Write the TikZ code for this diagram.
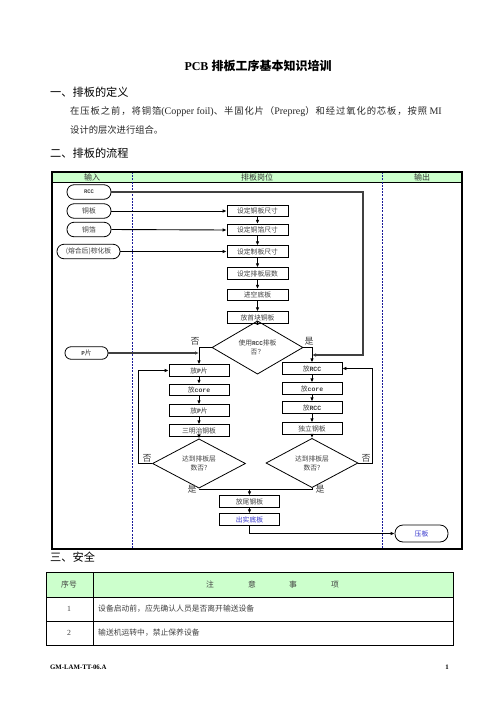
\documentclass[tikz,border=0pt]{standalone}
\usepackage{fontspec}
\setmainfont{Liberation Serif}
\setmonofont{Liberation Mono}
\newfontfamily\cjk{Noto Sans CJK SC}
\newfontfamily\cjkw[LetterSpace=10]{Noto Sans CJK SC}
\usetikzlibrary{shapes.geometric,arrows.meta}
\definecolor{hdrgreen}{HTML}{CCFFCC}
\definecolor{divblue}{HTML}{1A1A99}
\definecolor{txtblue}{HTML}{3333CC}
\definecolor{boxtxt}{HTML}{404040}
\newcommand{\mono}[1]{{\ttfamily\bfseries #1}}
\begin{document}
\begin{tikzpicture}[x=1pt,y=-1pt,
  proc/.style={draw, line width=0.8pt, minimum width=60pt, minimum height=11.5pt, inner sep=0pt, font=\cjk\fontsize{6.8}{8}\selectfont, text=boxtxt},
  term/.style={draw, line width=0.8pt, rounded corners=7pt, minimum height=14.5pt, inner sep=0pt, font=\cjk\fontsize{6.8}{8}\selectfont, text=boxtxt},
  dec/.style={diamond, draw, line width=0.8pt, inner sep=0pt, align=center, font=\cjk\fontsize{6.8}{9}\selectfont, text=boxtxt},
  arr/.style={line width=0.9pt, -{Latex[length=4pt,width=3.6pt]}},
  ln/.style={line width=0.9pt},
  feed/.style={line width=1.2pt, black!75, -{Latex[length=4pt,width=3.6pt]}},
  lbl/.style={font=\cjk\fontsize{9}{10}\selectfont, text=boxtxt, inner sep=0pt},
  head/.style={font=\cjk\fontsize{11.2}{13}\selectfont, anchor=west, inner sep=0pt},
  para/.style={font=\fontsize{9.3}{11}\selectfont, anchor=west, inner sep=0pt, text=black!85},
  tbl/.style={font=\cjk\fontsize{7.8}{9}\selectfont, inner sep=0pt, text=boxtxt}
]
\useasboundingbox (0,0) rectangle (496,702);

% title and text
\node[font=\bfseries\fontsize{12}{14}\selectfont, inner sep=0pt] (title) at (258,66) {PCB {\cjk 排板工序基本知识培训}};
\node[head] (h1) at (50,92) {一、排板的定义};
\node[para] (p1a) at (70,112) {{\cjkw 在压板之前，将铜箔}{\fontsize{10}{11}\selectfont(Copper foil)}{\cjkw 、半固化片（}{\fontsize{10}{11}\selectfont Prepreg}{\cjkw ）和经过氧化的芯板，按照} {\fontsize{10}{11}\selectfont MI}};
\node[para] (p1b) at (70,130) {\cjk 设计的层次进行组合。};
\node[head] (h2) at (50,153) {二、排板的流程};

% frame
\fill[hdrgreen] (52,172) rectangle (462,182);
\draw[line width=0.8pt] (52,182) -- (462,182);
\draw[divblue, line width=0.7pt, dash pattern=on 2pt off 1.2pt] (132,172) -- (132,549);
\draw[divblue, line width=0.7pt, dash pattern=on 2pt off 1.2pt] (382,172) -- (382,549);
\draw[line width=1.3pt] (52,172) rectangle (462,549);
\node[font=\cjk\fontsize{8}{9}\selectfont, text=black!80, inner sep=0pt] (hin) at (92,177) {输入};
\node[font=\cjk\fontsize{8}{9}\selectfont, text=black!80, inner sep=0pt] (hmid) at (257,177) {排板岗位};
\node[font=\cjk\fontsize{8}{9}\selectfont, text=black!80, inner sep=0pt] (hout) at (422,177) {输出};

% inputs
\node[term, minimum width=44pt] (rcc) at (89,192) {\mono{\fontsize{5.5}{6}\selectfont RCC}};
\node[term, minimum width=44pt] (cu) at (89,211) {铜板};
\node[term, minimum width=44pt] (foil) at (89,229.5) {铜箔};
\node[term, minimum width=63pt] (core) at (88.5,251.5) {(熔合后)棕化板};
\node[term, minimum width=43pt, minimum height=12.5pt, rounded corners=6pt] (pp) at (86.5,353) {\mono{\fontsize{6}{7}\selectfont P}片};

% main column
\node[proc, minimum width=61pt] (s1) at (257.5,211) {设定铜板尺寸};
\node[proc, minimum width=61pt] (s2) at (257.5,230) {设定铜箔尺寸};
\node[proc, minimum width=61pt] (s3) at (257.5,251.5) {设定制板尺寸};
\node[proc, minimum width=61pt] (s4) at (257.5,273.5) {设定排板层数};
\node[proc, minimum width=61pt] (s5) at (257.5,295) {进空底板};
\node[proc, minimum width=61pt] (s6) at (257.5,317.5) {放首块铜板};
\node[dec, minimum width=91pt, minimum height=30pt] (d1) at (257.5,347.5) {使用\mono{\fontsize{6}{7}\selectfont RCC}排板\\否？};

% left column
\node[proc] (l1) at (199,370.5) {放\mono{\fontsize{6.5}{7}\selectfont P}片};
\node[proc] (l2) at (199,390) {放\mono{\fontsize{6.5}{7}\selectfont core}};
\node[proc] (l3) at (199,410.5) {放\mono{\fontsize{6.5}{7}\selectfont P}片};
\node[proc] (l4) at (199,430.5) {三明治钢板};
\node[dec, minimum width=93pt, minimum height=37pt] (d2) at (199,463.5) {达到排板层\\数否?};

% right column
\node[proc] (r1) at (312,368.5) {放\mono{\fontsize{6.5}{7}\selectfont RCC}};
\node[proc] (r2) at (312,388.5) {放\mono{\fontsize{6.5}{7}\selectfont core}};
\node[proc] (r3) at (312,407.5) {放\mono{\fontsize{6.5}{7}\selectfont RCC}};
\node[proc] (r4) at (312,428.5) {独立钢板};
\node[dec, minimum width=92pt, minimum height=38pt] (d3) at (312,463) {达到排板层\\数否?};

% bottom
\node[proc] (t1) at (249.5,501.5) {放尾钢板};
\node[proc, text=txtblue] (t2) at (249.5,519.5) {出实底板};
\node[term, minimum width=53pt, minimum height=17pt, rounded corners=8pt, text=txtblue] (press) at (421.5,533.5) {压板};

% connectors
\coordinate (rccturn) at (363,192);
\coordinate (rccin) at (312,355);
\coordinate (ppin) at (199,353);
\coordinate (merge) at (249.5,489);

\draw[feed] (rcc.east) -- (rccturn) |- (rccin);
\draw[arr] (cu.east) -- (s1.west);
\draw[arr] (foil.east) -- (s2.west);
\draw[arr] (core.east) -- (s3.west);
\draw[feed] (pp.east) -- (ppin);

\draw[arr] (s1) -- (s2);
\draw[arr] (s2) -- (s3);
\draw[arr] (s3) -- (s4);
\draw[arr] (s4) -- (s5);
\draw[arr] (s5) -- (s6);
\draw[arr] (s6) -- (d1);

\draw[arr] (d1.west) -| (l1.north);
\draw[arr] (d1.east) -| (r1.north);
\node[lbl] (no1) at (195,341) {否};
\node[lbl] (yes1) at (309,341.5) {是};

\draw[arr] (l1) -- (l2);
\draw[arr] (l2) -- (l3);
\draw[arr] (l3) -- (l4);
\draw[arr] (l4) -- (d2);
\draw[arr] (r1) -- (r2);
\draw[arr] (r2) -- (r3);
\draw[arr] (r3) -- (r4);
\draw[arr] (r4) -- (d3);

\draw[arr] (d2.west) -- ++(-14,0) |- (l1.west);
\draw[arr] (d3.east) -- ++(14,0) |- (r1.east);
\node[lbl] (no2) at (147,458) {否};
\node[lbl] (no3) at (366,458) {否};

\draw[ln] (d2.south) |- (merge);
\draw[ln] (d3.south) |- (merge);
\draw[arr] (merge) -- (t1.north);
\node[lbl] (yes2) at (192,489) {是};
\node[lbl] (yes3) at (320,489) {是};
\draw[arr] (t1) -- (t2);
\draw[arr] (t2.south) |- (press.west);

% section 3
\node[head] (h3) at (50,557) {三、安全};
\fill[hdrgreen] (46,572) rectangle (453,597);
\draw[line width=1pt] (46,572) rectangle (453,645);
\draw[line width=0.9pt] (46,597) -- (453,597);
\draw[line width=0.9pt] (46,621) -- (453,621);
\draw[line width=0.9pt] (93,572) -- (93,645);
\node[tbl] (c00) at (69,584.5) {序号};
\node[tbl] (c01a) at (210,584.5) {注};
\node[tbl] (c01b) at (252,584.5) {意};
\node[tbl] (c01c) at (293,584.5) {事};
\node[tbl] (c01d) at (335,584.5) {项};
\node[tbl, font=\fontsize{7.8}{9}\selectfont] (c10) at (69,609) {1};
\node[tbl, anchor=west] (c11) at (98,608.5) {设备启动前，应先确认人员是否离开输送设备};
\node[tbl, font=\fontsize{7.8}{9}\selectfont] (c20) at (69,633) {2};
\node[tbl, anchor=west] (c21) at (98,632.5) {输送机运转中，禁止保养设备};

% footer
\node[font=\bfseries\fontsize{6.8}{7}\selectfont, anchor=west, inner sep=0pt] (foot) at (50,667) {GM-LAM-TT-06.A};
\node[font=\bfseries\fontsize{6.8}{7}\selectfont, inner sep=0pt] (pg) at (447,667) {1};
\end{tikzpicture}
\end{document}
